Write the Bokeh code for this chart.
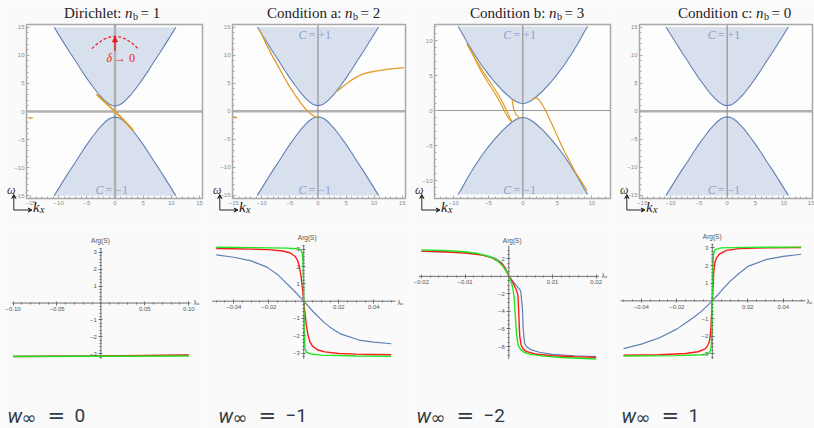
from bokeh.plotting import figure
from bokeh.layouts import row, column
from bokeh.models import Range1d, FixedTicker, Label, Arrow, VeeHead, NormalHead
from bokeh.embed import file_html
from bokeh.resources import INLINE

# ---------------- data ----------------
# bulk bands, panels 1, 2, 4
K_BAND = [-10.8, -10.0, -9.0, -8.0, -7.0, -6.0, -5.0, -4.0, -3.0, -2.0, -1.5, -1.0, -0.5, 0.0,
          0.5, 1.0, 1.5, 2.0, 3.0, 4.0, 5.0, 6.0, 7.0, 8.0, 9.0, 10.0, 10.8]
W_UP = [15.0, 13.7, 12.1, 10.5, 9.0, 7.4, 5.9, 4.5, 3.2, 2.1, 1.65, 1.3, 1.08, 1.0,
        1.08, 1.3, 1.65, 2.1, 3.2, 4.5, 5.9, 7.4, 9.0, 10.5, 12.1, 13.7, 15.0]
W_DN = [-15.0, -13.7, -12.1, -10.5, -9.0, -7.4, -5.9, -4.5, -3.2, -2.1, -1.65, -1.3, -1.08, -1.0,
        -1.08, -1.3, -1.65, -2.1, -3.2, -4.5, -5.9, -7.4, -9.0, -10.5, -12.1, -13.7, -15.0]
FILL_TOP, FILL_BOT = 15.0, -15.0
# bulk bands, panel 3
K_BAND3 = [-9.4, -9.0, -8.0, -7.0, -6.0, -5.0, -4.0, -3.0, -2.0, -1.5, -1.0, -0.5, 0.0,
           0.5, 1.0, 1.5, 2.0, 3.0, 4.0, 5.0, 6.0, 7.0, 8.0, 9.0, 9.4]
W_UP3 = [12.0, 11.4, 9.6, 8.0, 6.5, 5.2, 3.97, 2.9, 2.0, 1.6, 1.28, 1.07, 1.0,
         1.07, 1.28, 1.6, 2.0, 2.9, 3.97, 5.2, 6.5, 8.0, 9.6, 11.4, 12.0]
W_DN3 = [-12.0, -11.4, -9.6, -8.0, -6.5, -5.2, -3.97, -2.9, -2.0, -1.6, -1.28, -1.07, -1.0,
         -1.07, -1.28, -1.6, -2.0, -2.9, -3.97, -5.2, -6.5, -8.0, -9.6, -11.4, -12.0]
FILL_TOP3, FILL_BOT3 = 12.0, -12.0

# edge states (orange)
OR1_K = [-3.3, -2.0, -1.0, 0.0, 1.0, 2.0, 3.25]
OR1_W = [3.05, 1.85, 0.92, 0.0, -0.98, -1.98, -3.35]
OR1D_K = [-15.3, -14.6]
OR1D_W = [-1.15, -1.15]

OR2A_K = [-10.4, -10.0, -9.0, -8.0, -7.0, -6.0, -5.0, -4.0, -3.0, -2.25, -1.5, -1.07, -0.5, 0.1]
OR2A_W = [14.5, 13.6, 11.5, 9.6, 7.85, 6.0, 4.3, 2.8, 1.4, 0.43, -0.25, -0.64, -0.95, -1.05]
OR2B_K = [3.4, 4.5, 5.5, 6.5, 7.8, 9.0, 10.8, 12.5, 15.3]
OR2B_W = [3.55, 4.45, 5.2, 5.9, 6.55, 6.9, 7.25, 7.5, 7.75]
OR2D_K = [-15.1, -14.4]
OR2D_W = [-1.1, -1.1]

OR3A_K = [-8.1, -7.0, -6.0, -5.0, -4.0, -3.2, -2.6, -2.1, -1.6]
OR3A_W = [9.5, 7.5, 5.5, 3.9, 2.4, 1.0, -0.2, -1.1, -1.65]
OR3B_K = [-8.1, -7.0, -5.8, -4.7, -3.7, -2.9, -2.3, -1.9, -1.55]
OR3B_W = [9.5, 7.6, 5.6, 4.0, 2.5, 1.1, -0.1, -1.0, -1.62]
OR3C_K = [-1.55, -1.45, -1.3, -1.0, -0.6, -0.3]
OR3C_W = [1.6, 0.9, 0.1, -0.55, -0.95, -1.1]
OR3D_K = [1.3, 1.6, 2.1, 2.6, 3.3, 4.3, 5.7, 7.6, 9.3]
OR3D_W = [1.55, 1.75, 1.75, 1.2, 0.0, -2.1, -5.2, -8.8, -11.4]

# red annotation, panel 1
ARC_K = [-4.1, -3.0, -2.0, -1.0, 0.0, 1.0, 2.0, 3.0, 4.1]
ARC_W = [11.2, 12.2, 12.85, 13.25, 13.4, 13.25, 12.85, 12.2, 11.2]

# scattering phase Arg(S), bottom row
B1_X_BLUE = [-0.1, 0.1]
B1_Y_BLUE = [-3.16, -3.1]
B1_X_RED = [-0.1, 0.0, 0.1]
B1_Y_RED = [-3.16, -3.13, -3.07]
B1_X_GREEN = [-0.1, 0.1]
B1_Y_GREEN = [-3.16, -3.13]

B2_X_BLUE = [-0.05, -0.04, -0.03, -0.021, -0.015, -0.0114, -0.0057, 0.0, 0.0057, 0.0114, 0.015,
             0.021, 0.0324, 0.04, 0.05]
B2_Y_BLUE = [2.68, 2.54, 2.33, 1.97, 1.55, 1.19, 0.62, 0.0, -0.64, -1.21, -1.5, -1.89, -2.27, -2.37, -2.46]
B2_X_RED = [-0.05, -0.04, -0.03, -0.02, -0.012, -0.008, -0.005, -0.0035, -0.0025, -0.0015, -0.0008, 0.0,
            0.0008, 0.0015, 0.0025, 0.0035, 0.005, 0.008, 0.012, 0.02, 0.03, 0.04, 0.05]
B2_Y_RED = [3.04, 3.03, 3.01, 2.98, 2.9, 2.8, 2.6, 2.35, 2.0, 1.4, 0.8, 0.0,
            -0.8, -1.4, -2.0, -2.35, -2.6, -2.82, -2.93, -3.02, -3.06, -3.08, -3.1]
B2_X_GREEN = [-0.05, -0.03, -0.01, -0.004, -0.0015, -0.0007, -0.0003, 0.0, 0.0003, 0.0007, 0.0015,
              0.004, 0.01, 0.03, 0.05]
B2_Y_GREEN = [3.12, 3.1, 3.07, 3.03, 2.95, 2.7, 1.8, 0.0, -1.8, -2.7, -2.95, -3.05, -3.12, -3.17, -3.19]

B3_X_BLUE = [-0.02, -0.015, -0.01, -0.006, -0.003, -0.0015, -0.0005, 0.0, 0.001, 0.002, 0.0027, 0.0031,
             0.0033, 0.0036, 0.004, 0.005, 0.007, 0.01, 0.015, 0.02]
B3_Y_BLUE = [2.85, 2.8, 2.7, 2.45, 2.05, 1.5, 0.6, 0.05, -0.6, -1.2, -1.65, -3.5, -6.0, -7.6, -8.0,
             -8.35, -8.65, -8.9, -9.05, -9.16]
B3_X_RED = [-0.02, -0.015, -0.01, -0.006, -0.004, -0.002, -0.001, 0.0, 0.001, 0.0017, 0.0021, 0.0023,
            0.0025, 0.0028, 0.0033, 0.004, 0.006, 0.01, 0.015, 0.02]
B3_Y_RED = [2.88, 2.8, 2.65, 2.42, 2.15, 1.6, 1.1, 0.1, -0.8, -1.5, -2.2, -4.5, -6.8, -7.8, -8.3,
            -8.55, -8.85, -9.05, -9.17, -9.24]
B3_X_GREEN = [-0.02, -0.015, -0.01, -0.007, -0.005, -0.003, -0.0015, -0.0005, 0.0, 0.0005, 0.0009,
              0.0012, 0.0015, 0.0018, 0.0022, 0.0027, 0.0035, 0.005, 0.008, 0.012, 0.02]
B3_Y_GREEN = [3.02, 2.95, 2.8, 2.6, 2.35, 1.95, 1.25, 0.5, 0.0, -0.6, -1.3, -2.3, -4.5, -6.8, -7.9,
              -8.35, -8.65, -8.9, -9.1, -9.25, -9.42]

B4_X_BLUE = [-0.05, -0.04, -0.03, -0.02, -0.015, -0.01, -0.006, -0.003, 0.0, 0.003, 0.006, 0.01,
             0.015, 0.02, 0.03, 0.04, 0.05]
B4_Y_BLUE = [-2.7, -2.45, -2.1, -1.6, -1.25, -0.9, -0.58, -0.3, 0.0, 0.33, 0.68, 1.1, 1.55, 1.95,
             2.33, 2.52, 2.64]
B4_X_RED = [-0.05, -0.03, -0.015, -0.008, -0.004, -0.0025, -0.0015, -0.0008, 0.0, 0.0008, 0.0015,
            0.0025, 0.004, 0.008, 0.015, 0.03, 0.05]
B4_Y_RED = [-3.08, -3.05, -2.98, -2.88, -2.72, -2.52, -2.25, -1.6, 0.0, 1.6, 2.2, 2.45, 2.65, 2.86,
            2.96, 3.0, 3.02]
B4_X_GREEN = [-0.05, -0.02, -0.005, -0.0015, -0.0006, -0.0002, 0.0, 0.0002, 0.0006, 0.0015, 0.005,
              0.02, 0.05]
B4_Y_GREEN = [-3.12, -3.1, -3.05, -2.95, -2.6, -1.5, 0.0, 1.5, 2.6, 2.9, 3.0, 3.03, 3.04]

# texts and ticks
TITLES = [("Dirichlet:", "= 1"), ("Condition a:", "= 2"), ("Condition b:", "= 3"), ("Condition c:", "= 0")]
W_TEXTS = ["0", "\u22121", "\u22122", "1"]
TOP_TICKS = [-15, -10, -5, 0, 5, 10, 15]
TOP_TICKS3 = [-10, -5, 0, 5, 10]
B1_XT = [-0.10, -0.05, 0.05, 0.10]
B1_XL = ["\u22120.10", "\u22120.05", "0.05", "0.10"]
B2_XT = [-0.04, -0.02, 0.02, 0.04]
B2_XL = ["\u22120.04", "\u22120.02", "0.02", "0.04"]
B3_XT = [-0.02, -0.01, 0.01, 0.02]
B3_XL = ["\u22120.02", "\u22120.01", "0.01", "0.02"]
YT_PI = [-3, -2, -1, 1, 2, 3]
YT_B3 = [-8, -6, -4, -2, 2]

# ---------------- styling / layout ----------------
SERIF = "Liberation Serif"
SANS = "Liberation Sans"
BG = "#fafafa"
FILL = "#d9e0ed"
BAND_BLUE = "#5e81b5"
ORANGE = "#e19c24"
C_COLOR = "#8da1cd"
RED = "#ee1c1c"
GREEN = "#22e622"
PLOT_RED = "#ff1a1a"
FRAME = "#a8a8a8"
W_COLOR = "#2f3a44"
ALPHA_FIX = 4.5   # px: alphabetic baselines render this much lower than asked

TOP_H, BOT_H = 224, 204
# canvas x, width; inner frame L, R, T, B (page px); inner data ranges
TOP_GEOM = [
    dict(cx=0, w=205, L=26, R=202, T=24, B=198, xr=(-15.71, 15.53), yr=(-15.5, 15.5), A=132),
    dict(cx=205, w=205, L=232, R=405, T=24, B=198, xr=(-15.23, 15.59), yr=(-15.55, 15.45), A=352),
    dict(cx=410, w=204, L=434, R=610, T=24, B=198, xr=(-12.8, 12.7), yr=(-12.57, 12.29), A=556),
    dict(cx=614, w=200, L=639, R=812, T=24, B=198, xr=(-15.47, 15.05), yr=(-15.55, 15.45), A=763),
]
BOT_GEOM = [
    dict(cx=0, w=205, L=11.7, R=190, T=248.3, B=358.3, xr=(-0.101, 0.102), yr=(-3.30, 3.21),
         argx=100, argy=240, lamx=193, lamy=302, wx=7),
    dict(cx=205, w=205, L=211.7, R=395, T=245, B=358.3, xr=(-0.0523, 0.0524), yr=(-3.33, 3.22),
         argx=306.7, argy=237, lamx=397, lamy=302, wx=218),
    dict(cx=410, w=204, L=418.3, R=598.3, T=245, B=358.3, xr=(-0.0206, 0.0206), yr=(-9.4, 3.52),
         argx=511.7, argy=240, lamx=601, lamy=275, wx=416),
    dict(cx=614, w=200, L=620, R=805, T=243.3, B=358.3, xr=(-0.0517, 0.0525), yr=(-3.28, 3.23),
         argx=711.7, argy=236, lamx=806, lamy=301, wx=621),
]


def lbl(txt):
    return txt.replace("-", "\u2212")


def make_fig(g, cy, h, bg):
    """Figure whose frame fills the whole canvas; data ranges extended so that the
    inner (drawn) frame L..R, T..B maps onto the given inner ranges."""
    sx = (g["xr"][1] - g["xr"][0]) / (g["R"] - g["L"])
    sy = (g["yr"][1] - g["yr"][0]) / (g["B"] - g["T"])
    x_start = g["xr"][0] - (g["L"] - g["cx"]) * sx
    x_end = g["xr"][1] + (g["cx"] + g["w"] - g["R"]) * sx
    y_end = g["yr"][1] + (g["T"] - cy) * sy
    y_start = g["yr"][0] - (cy + h - g["B"]) * sy
    p = figure(width=g["w"], height=h, x_range=Range1d(x_start, x_end), y_range=Range1d(y_start, y_end),
               toolbar_location=None, output_backend="svg", title=None,
               min_border_left=0, min_border_right=0, min_border_top=0, min_border_bottom=0,
               background_fill_color=bg, border_fill_color=bg, outline_line_color=None)
    p.grid.visible = False

    def m(px, py):
        return (x_start + (px - g["cx"]) * sx, y_end - (py - cy) * sy)
    return p, m


def add_text(p, m, px, py, text, size, color="#222222", font=SERIF, style="normal",
             align="left", baseline="alphabetic"):
    if baseline == "alphabetic":
        py = py - ALPHA_FIX
    x, y = m(px, py)
    p.add_layout(Label(x=x, y=y, text=text, text_font=font, text_font_size=f"{size}px",
                       text_font_style=style, text_color=color, text_align=align,
                       text_baseline=baseline))


def style_axis(ax, color, lab_color, tick_in, tick_out, minor_in, minor_out):
    ax.axis_line_color = None
    ax.major_tick_line_color = color
    ax.minor_tick_line_color = color
    ax.major_tick_in = tick_in
    ax.major_tick_out = tick_out
    ax.minor_tick_in = minor_in
    ax.minor_tick_out = minor_out
    ax.major_label_text_font_size = "6px"
    ax.major_label_text_font = SANS
    ax.major_label_text_color = lab_color
    ax.major_label_standoff = 2


def top_panel(i):
    g = TOP_GEOM[i]
    p, m = make_fig(g, 0, TOP_H, BG)
    x0, x1 = g["xr"]
    y0, y1 = g["yr"]

    # plot frame background
    p.quad(left=x0, right=x1, bottom=y0, top=y1, fill_color="#fdfdfd", line_color=None)

    ticks = TOP_TICKS3 if i == 2 else TOP_TICKS
    p.xaxis.fixed_location = y0
    p.yaxis.fixed_location = x0
    p.xaxis.ticker = FixedTicker(ticks=ticks, minor_ticks=[v for v in range(-15, 16) if x0 <= v <= x1])
    p.yaxis.ticker = FixedTicker(ticks=ticks, minor_ticks=[v for v in range(-15, 16) if y0 <= v <= y1])
    for ax in (p.xaxis[0], p.yaxis[0]):
        ax.major_label_overrides = {t: lbl(str(t)) for t in ticks}
        style_axis(ax, FRAME, "#8a8a8a", 3, 0, 2, 0)

    if i == 2:
        kb, wu, wd, ft, fb = K_BAND3, W_UP3, W_DN3, FILL_TOP3, FILL_BOT3
    else:
        kb, wu, wd, ft, fb = K_BAND, W_UP, W_DN, FILL_TOP, FILL_BOT
    p.varea(x=kb, y1=wu, y2=ft, fill_color=FILL)
    p.varea(x=kb, y1=fb, y2=wd, fill_color=FILL)

    # Mathematica axes through the origin
    h_w, h_c = (1.1, "#999999") if i == 2 else (2.5, "#b0b0b0")
    v_w, v_c = (2.5, "#b0b0b0") if i == 0 else (1.1, "#8c8c8c")
    p.segment(x0=x0, y0=0, x1=x1, y1=0, line_color=h_c, line_width=h_w)
    p.segment(x0=0, y0=y0, x1=0, y1=y1, line_color=v_c, line_width=v_w)

    p.line(kb, wu, line_color=BAND_BLUE, line_width=1.1)
    p.line(kb, wd, line_color=BAND_BLUE, line_width=1.1)

    if i == 0:
        curves = [(OR1_K, OR1_W, 1.8), (OR1D_K, OR1D_W, 1.5)]
    elif i == 1:
        curves = [(OR2A_K, OR2A_W, 1.3), (OR2B_K, OR2B_W, 1.3), (OR2D_K, OR2D_W, 1.5)]
    elif i == 2:
        curves = [(OR3A_K, OR3A_W, 1.2), (OR3B_K, OR3B_W, 1.2), (OR3C_K, OR3C_W, 1.2),
                  (OR3D_K, OR3D_W, 1.2)]
    else:
        curves = []
    for k, w, lw in curves:
        p.line(k, w, line_color=ORANGE, line_width=lw)

    # frame outline on top
    p.quad(left=x0, right=x1, bottom=y0, top=y1, fill_color=None, line_color=FRAME, line_width=1.5)

    # title "<prefix> n_b = N"
    a = g["A"]
    pre, post = TITLES[i]
    add_text(p, m, a - 11, 17.3, pre, 15, align="right")
    add_text(p, m, a - 7.5, 17.3, "n", 15, style="italic")
    add_text(p, m, a + 0.5, 20, "b", 10)
    add_text(p, m, a + 8, 17.3, post, 15)

    # Chern number labels
    zero_px = g["L"] + (0 - x0) / (x1 - x0) * (g["R"] - g["L"])
    c_top_py, c_bot_py = (34.3, 189.3) if i == 2 else (34.3, 189.0)
    items = [(c_bot_py, "= \u22121")] if i == 0 else [(c_top_py, "= +1"), (c_bot_py, "= \u22121")]
    for py, s in items:
        add_text(p, m, zero_px - 11.5, py, "C", 12, color=C_COLOR, style="italic",
                 align="right", baseline="middle")
        add_text(p, m, zero_px - 9.5, py, s, 12, color=C_COLOR, baseline="middle")

    # corner glyph (omega up, k_x right)
    fl = g["L"]
    add_text(p, m, fl - 15.3, 189, "\u03c9", 12, color="#333333", style="italic",
             align="center", baseline="middle")
    ax0, ay0 = m(fl - 12.7, 209.5)
    ax1, ay1 = m(fl - 12.7, 194)
    ax2, _ = m(fl + 5.5, 209.5)
    for xe, ye in ((ax1, ay1), (ax2, ay0)):
        p.add_layout(Arrow(x_start=ax0, y_start=ay0, x_end=xe, y_end=ye, line_width=1,
                           line_color="#222222",
                           end=VeeHead(size=4, line_color="#222222", line_width=1,
                                       fill_color="#222222")))
    add_text(p, m, fl + 6.5, 211, "k", 15, color="#222222", style="italic")
    add_text(p, m, fl + 13.5, 213.5, "x", 10, color="#222222", style="italic")

    if i == 0:
        p.line(ARC_K, ARC_W, line_color=RED, line_width=1.2, line_dash="3 2")
        p.add_layout(Arrow(x_start=0, y_start=10.8, x_end=0, y_end=13.3, line_color=RED, line_width=1.4,
                           end=NormalHead(size=5, line_color=RED, fill_color=RED)))
        zx = zero_px
        add_text(p, m, zx - 3, 57, "\u03b4", 12, color=RED, style="italic", align="right",
                 baseline="middle")
        add_text(p, m, zx - 1, 57, "\u2192 0", 12, color=RED, baseline="middle")
    return p


def bottom_panel(i):
    g = BOT_GEOM[i]
    p, m = make_fig(g, TOP_H, BOT_H, BG)
    x0, x1 = g["xr"]
    y0, y1 = g["yr"]
    if i == 0:
        xt, xl = B1_XT, B1_XL
        xm = [round(-0.1 + 0.01 * j, 4) for j in range(21)]
    elif i == 2:
        xt, xl = B3_XT, B3_XL
        xm = [round(-0.02 + 0.002 * j, 4) for j in range(21)]
    else:
        xt, xl = B2_XT, B2_XL
        xm = [round(-0.05 + 0.005 * j, 4) for j in range(21)]
    if i == 2:
        yt = YT_B3
        ym = [round(-9 + 0.5 * j, 2) for j in range(25)]
    else:
        yt = YT_PI
        ym = [round(-3.2 + 0.2 * j, 2) for j in range(33)]
    p.xaxis.fixed_location = 0
    p.yaxis.fixed_location = 0
    p.xaxis.ticker = FixedTicker(ticks=xt, minor_ticks=xm)
    p.xaxis.major_label_overrides = {t: s for t, s in zip(xt, xl)}
    p.yaxis.ticker = FixedTicker(ticks=yt, minor_ticks=ym)
    p.yaxis.major_label_overrides = {t: lbl(str(t)) for t in yt}
    for ax in (p.xaxis[0], p.yaxis[0]):
        style_axis(ax, "#6e6e6e", "#555555", 2, 2, 1, 1)

    # axis lines spanning the plot range
    p.segment(x0=x0, y0=0, x1=x1, y1=0, line_color="#6e6e6e", line_width=1)
    p.segment(x0=0, y0=y0, x1=0, y1=y1, line_color="#6e6e6e", line_width=1)

    data = [
        (B1_X_BLUE, B1_Y_BLUE, B1_X_RED, B1_Y_RED, B1_X_GREEN, B1_Y_GREEN),
        (B2_X_BLUE, B2_Y_BLUE, B2_X_RED, B2_Y_RED, B2_X_GREEN, B2_Y_GREEN),
        (B3_X_BLUE, B3_Y_BLUE, B3_X_RED, B3_Y_RED, B3_X_GREEN, B3_Y_GREEN),
        (B4_X_BLUE, B4_Y_BLUE, B4_X_RED, B4_Y_RED, B4_X_GREEN, B4_Y_GREEN),
    ][i]
    p.line(data[0], data[1], line_color=BAND_BLUE, line_width=1.2)
    p.line(data[2], data[3], line_color=PLOT_RED, line_width=1.4)
    p.line(data[4], data[5], line_color=GREEN, line_width=1.4)

    add_text(p, m, g["argx"], g["argy"], "Arg(S)", 6.5, color="#555555", font=SANS,
             align="center", baseline="middle")
    add_text(p, m, g["lamx"], g["lamy"], "\u03bb\u2093", 7, color="#555555", font=SANS,
             baseline="middle")

    # winding-number label "w_inf = N" (kept clear of the bottom edge)
    wx = g["wx"]
    add_text(p, m, wx, 419.5, "w", 20, color=W_COLOR, font="Roboto", style="italic")
    add_text(p, m, wx + 14, 421, "\u221e", 18, color=W_COLOR, font="DejaVu Sans")
    add_text(p, m, wx + 40, 419.5, "=", 21, color=W_COLOR, font="DejaVu Sans")
    add_text(p, m, wx + 67, 419.5, W_TEXTS[i], 19, color=W_COLOR, font="Roboto")
    return p


tops = [top_panel(i) for i in range(4)]
bots = [bottom_panel(i) for i in range(4)]
layout = column(row(*tops), row(*bots))
open("out.html", "w").write(file_html(layout, INLINE))
